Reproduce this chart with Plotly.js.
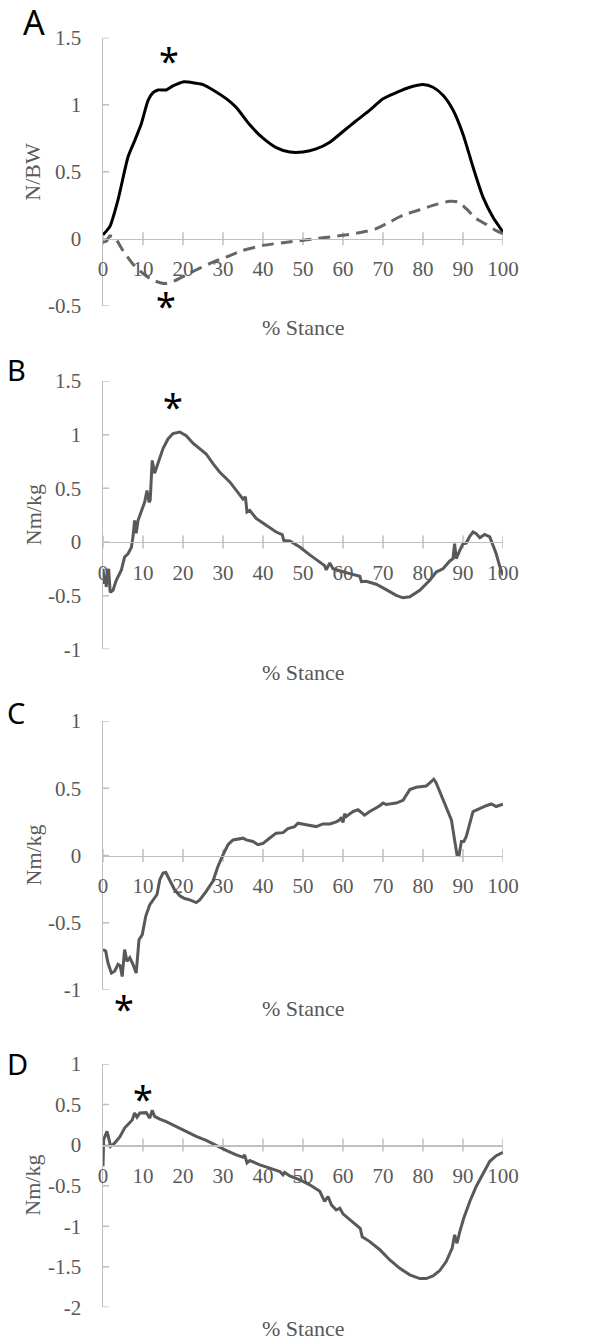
<!DOCTYPE html>
<html>
<head>
<meta charset="utf-8">
<script src="https://cdn.plot.ly/plotly-3.0.1.min.js"></script>
<style>html,body{margin:0;padding:0;background:#fff;}#chart{width:607px;height:1342px;}</style>
</head>
<body>
<div id="chart"></div>
<script>
// ---------- DATA ----------
const stanceTicks = [0,10,20,30,40,50,60,70,80,90,100];

// Panel A: vertical GRF (solid) and anterior-posterior GRF (dashed), N/BW
const aVertX = [0,1.7,3.75,6.25,7.9,9.6,11.25,12.5,13.75,15.8,17.5,20,23.3,25,27.5,30.8,33.3,36.7,40,43.3,46.7,50,53.3,56.7,60,63.3,66.7,70,73.3,76.7,80,82.5,85,87.5,90,92.5,95,97.5,100];
const aVertY = [0.03,0.09,0.29,0.61,0.73,0.86,1.03,1.09,1.11,1.11,1.14,1.17,1.16,1.15,1.11,1.045,0.98,0.85,0.75,0.68,0.647,0.647,0.67,0.72,0.80,0.88,0.96,1.045,1.09,1.13,1.15,1.13,1.07,0.96,0.78,0.535,0.31,0.16,0.05];
const aApX = [0,0.8,1.7,2.9,5,7.5,10,12.5,15.4,17.5,20.8,24.2,27.5,30.8,35,40,45,50,55,60,65,68.3,71.7,75,79.2,83.3,86.7,88.75,90.8,93.3,95.8,98.3,100];
const aApY = [-0.025,-0.02,0.02,0.01,-0.09,-0.19,-0.26,-0.31,-0.335,-0.32,-0.27,-0.22,-0.175,-0.137,-0.087,-0.05,-0.03,-0.012,0.007,0.025,0.05,0.075,0.125,0.175,0.216,0.256,0.279,0.274,0.224,0.15,0.107,0.06,0.037];

// Panel B (Nm/kg)
const bX = [0,0.4,0.7,0.8,1.1,1.4,1.8,2.5,3.3,4.6,5.4,6.25,7.1,7.5,7.9,8.3,8.75,9.6,10.4,11,11.5,11.8,12.3,12.9,13.75,15,16.25,17.5,19.2,20.8,22.5,24.2,25.8,27.5,29.2,31.7,33.3,35,35.6,36,36.7,38.3,40.8,43.3,44.8,45.2,46.7,49.2,51.7,54.2,55.4,55.8,56.7,57.5,59.2,61.7,64.2,64.6,65.8,68.3,70.8,73.3,75,76.7,79.2,81.7,83.3,85,86.7,87.5,87.9,88.3,89.2,90,90.8,91.7,92.5,93.3,94.2,95.4,96.7,97.5,98.3,99.2,100];
const bY = [-0.25,-0.39,-0.31,-0.42,-0.295,-0.25,-0.47,-0.45,-0.36,-0.26,-0.14,-0.11,-0.05,0.05,0.2,0.08,0.2,0.28,0.37,0.48,0.37,0.39,0.76,0.64,0.73,0.87,0.96,1.01,1.025,0.99,0.92,0.87,0.82,0.73,0.65,0.56,0.48,0.40,0.42,0.28,0.295,0.22,0.155,0.093,0.068,0.015,0.01,-0.047,-0.12,-0.19,-0.22,-0.26,-0.196,-0.25,-0.27,-0.295,-0.32,-0.37,-0.366,-0.394,-0.444,-0.497,-0.52,-0.51,-0.45,-0.357,-0.28,-0.25,-0.177,-0.155,-0.016,-0.155,-0.078,-0.016,-0.01,0.053,0.093,0.078,0.04,0.07,0.047,-0.03,-0.11,-0.23,-0.31];

// Panel C (Nm/kg)
const cX = [0,0.67,1.25,2.1,2.9,3.75,4.3,4.8,5.4,6,6.7,7.5,8.3,9,9.8,10.7,11.7,12.5,13.5,14.2,15,15.7,16.7,17.9,19.2,20.4,21.7,23.3,24.2,25.8,27.5,28.75,30,31.25,32.5,34.2,35,35.8,37.5,38.75,40,41.7,43.3,45,46.25,47.9,48.75,50.8,53.3,55,56.7,58.3,59.2,59.6,60,60.4,60.8,62.5,63.75,65.4,66.7,69.2,70,70.8,73.3,75,76.7,78.3,79.2,80.8,81.7,82.7,83.3,84.2,85,85.8,87.1,87.9,88.5,89,89.6,90.2,90.8,92.5,94.2,95.8,97.1,98.3,100];
const cY = [-0.70,-0.71,-0.80,-0.874,-0.86,-0.81,-0.82,-0.90,-0.70,-0.787,-0.76,-0.81,-0.874,-0.626,-0.59,-0.45,-0.366,-0.33,-0.29,-0.18,-0.13,-0.126,-0.18,-0.255,-0.30,-0.32,-0.33,-0.35,-0.33,-0.267,-0.19,-0.08,0.005,0.08,0.116,0.124,0.129,0.116,0.104,0.08,0.09,0.13,0.166,0.17,0.2,0.215,0.24,0.228,0.215,0.235,0.235,0.25,0.265,0.285,0.245,0.31,0.29,0.327,0.34,0.30,0.327,0.37,0.39,0.38,0.39,0.41,0.49,0.507,0.51,0.517,0.54,0.567,0.54,0.475,0.41,0.36,0.265,0.116,0.005,0.0,0.104,0.104,0.14,0.327,0.35,0.37,0.383,0.364,0.381];

// Panel D (Nm/kg)
const dX = [0,0.17,0.67,1.0,1.5,1.9,2.9,4.2,5.4,6.7,7.3,7.9,8.5,9.2,10.8,11.7,12.3,12.9,14.2,15.8,18.3,20.8,23.3,25.8,28.3,30.8,33.3,35,35.4,36,36.7,39.2,41.7,44.2,45,45.4,46.7,49.2,51.7,54.2,55.4,56.25,57.1,58.3,59.2,60,61.7,63.75,64.3,64.8,66.7,69.2,71.7,74.2,76.7,79.2,80.8,82.5,84.2,85.8,87.3,87.9,88.5,89.2,90.2,91.7,93.3,95,96.7,98.3,100];
const dY = [-0.26,0.066,0.13,0.17,0.07,-0.016,0.025,0.1,0.21,0.28,0.31,0.395,0.345,0.395,0.40,0.333,0.43,0.354,0.32,0.29,0.23,0.177,0.107,0.058,-0.008,-0.066,-0.12,-0.148,-0.12,-0.22,-0.19,-0.243,-0.284,-0.325,-0.366,-0.337,-0.38,-0.43,-0.49,-0.57,-0.695,-0.634,-0.737,-0.80,-0.778,-0.848,-0.92,-1.004,-1.025,-1.13,-1.19,-1.29,-1.416,-1.52,-1.60,-1.646,-1.646,-1.613,-1.547,-1.436,-1.27,-1.107,-1.21,-1.066,-0.90,-0.695,-0.51,-0.354,-0.20,-0.13,-0.09];

// Y tick values and labels per panel
const aYTicks = [-0.5,0,0.5,1,1.5];
const aYText  = ['-0.5','0','0.5','1','1.5'];
const bYTicks = [-1,-0.5,0,0.5,1,1.5];
const bYText  = ['-1','-0.5','0','0.5','1','1.5'];
const cYTicks = [-1,-0.5,0,0.5,1];
const cYText  = ['-1','-0.5','0','0.5','1'];
const dYTicks = [-2,-1.5,-1,-0.5,0,0.5,1];
const dYText  = ['-2','-1.5','-1','-0.5','0','0.5','1'];

const panelLetters = ['A','B','C','D'];
const yTitles = ['N/BW','Nm/kg','Nm/kg','Nm/kg'];
const xTitle = '% Stance';

// ---------- LAYOUT ----------
const W = 607, H = 1342;
const GRAY = '#595959', AXC = '#bfbfbf';
const SERIF = 'Liberation Serif, serif';
const SANS = 'Noto Sans, sans-serif';
const px = v => v / W;
const py = v => 1 - v / H;

const xDom = [px(103), px(503)];
const panels = [
  {top: 37.7,  bot: 305.7,  range: [-0.5,1.5], ticks: aYTicks, text: aYText, letter: {x:34,y:22,size:34}, xtitleY: 327},
  {top: 381,   bot: 649.3,  range: [-1,1.5],   ticks: bYTicks, text: bYText, letter: {x:16,y:370,size:29}, xtitleY: 672},
  {top: 721,   bot: 990,    range: [-1,1],     ticks: cYTicks, text: cYText, letter: {x:16,y:713,size:29}, xtitleY: 1008},
  {top: 1064,  bot: 1307.3, range: [-2,1],     ticks: dYTicks, text: dYText, letter: {x:17,y:1063,size:29}, xtitleY: 1328}
];

const layout = {
  width: W, height: H,
  margin: {l:0, r:0, t:0, b:0},
  paper_bgcolor: '#fff', plot_bgcolor: 'rgba(0,0,0,0)',
  showlegend: false,
  shapes: [], annotations: []
};

panels.forEach((p, i) => {
  const n = i === 0 ? '' : String(i + 1);
  const yDom = [py(p.bot), py(p.top)];
  const zeroPos = yDom[0] + (yDom[1] - yDom[0]) * (0 - p.range[0]) / (p.range[1] - p.range[0]);
  layout['xaxis' + n] = {
    domain: xDom, range: [0, 100], anchor: 'free', position: zeroPos,
    showline: true, linecolor: AXC, linewidth: 1.5,
    showgrid: false, zeroline: false,
    tickmode: 'array', tickvals: stanceTicks, ticktext: stanceTicks.map(String),
    ticks: '', ticklabelstandoff: 11,
    tickfont: {family: SERIF, size: 21, color: GRAY},
    fixedrange: true
  };
  layout['yaxis' + n] = {
    domain: yDom, range: p.range, anchor: 'x' + n,
    showline: true, linecolor: AXC, linewidth: 1.5,
    showgrid: false, zeroline: false,
    tickmode: 'array', tickvals: p.ticks, ticktext: p.text,
    ticks: '', ticklabelstandoff: 16,
    tickfont: {family: SERIF, size: 21, color: GRAY},
    fixedrange: true
  };
  stanceTicks.forEach(t => layout.shapes.push({
    type: 'line', xref: 'x' + n, yref: 'y' + n, x0: t, x1: t,
    ysizemode: 'pixel', yanchor: 0, y0: -6.5, y1: 6.5,
    line: {color: AXC, width: 1.5}, layer: 'below'
  }));
  p.ticks.forEach(t => layout.shapes.push({
    type: 'line', xref: 'x' + n, yref: 'y' + n, y0: t, y1: t,
    xsizemode: 'pixel', xanchor: 0, x0: -6.5, x1: 6,
    line: {color: AXC, width: 1.5}, layer: 'below'
  }));
  layout.annotations.push({
    text: panelLetters[i], xref: 'paper', yref: 'paper',
    x: px(p.letter.x), y: py(p.letter.y), xanchor: 'center', yanchor: 'middle',
    showarrow: false, font: {family: SANS, size: p.letter.size, color: '#000'}
  });
  layout.annotations.push({
    text: yTitles[i], xref: 'paper', yref: 'paper', textangle: -90,
    x: px(33), y: (yDom[0] + yDom[1]) / 2, xanchor: 'center', yanchor: 'middle',
    showarrow: false, font: {family: SERIF, size: 22, color: GRAY}
  });
  layout.annotations.push({
    text: xTitle, xref: 'paper', yref: 'paper',
    x: px(303), y: py(p.xtitleY), xanchor: 'center', yanchor: 'middle',
    showarrow: false, font: {family: SERIF, size: 22, color: GRAY}
  });
});

const stars = [[169,55],[166,300],[173,400],[124,1002],[143,1092]];
stars.forEach(s => layout.annotations.push({
  text: '*', xref: 'paper', yref: 'paper', x: px(s[0]), y: py(s[1] + 6),
  xanchor: 'center', yanchor: 'middle', showarrow: false,
  font: {family: SANS, size: 36, color: '#000'}
}));

const traces = [
  {x: aVertX, y: aVertY, xaxis: 'x', yaxis: 'y', mode: 'lines',
   line: {color: '#000', width: 3, shape: 'spline', smoothing: 0.6}},
  {x: aApX, y: aApY, xaxis: 'x', yaxis: 'y', mode: 'lines',
   line: {color: '#666666', width: 3, dash: '12px,7px', shape: 'spline', smoothing: 0.6}},
  {x: bX, y: bY, xaxis: 'x2', yaxis: 'y2', mode: 'lines',
   line: {color: GRAY, width: 3}},
  {x: cX, y: cY, xaxis: 'x3', yaxis: 'y3', mode: 'lines',
   line: {color: GRAY, width: 3}},
  {x: dX, y: dY, xaxis: 'x4', yaxis: 'y4', mode: 'lines',
   line: {color: GRAY, width: 3}}
];
traces.forEach(t => { t.hoverinfo = 'skip'; t.cliponaxis = false; });

Plotly.newPlot('chart', traces, layout, {displayModeBar: false, staticPlot: true});
</script>
</body>
</html>
